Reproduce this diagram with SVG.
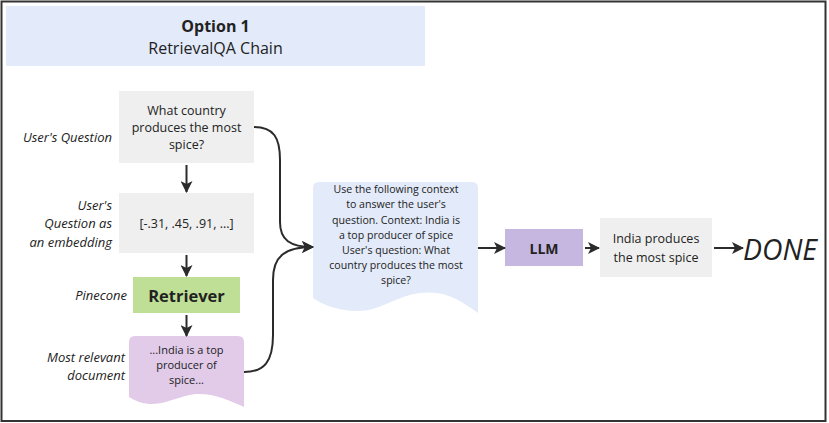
<svg xmlns="http://www.w3.org/2000/svg" width="829" height="423" viewBox="0 0 829 423">
<defs>
<marker id="ah" viewBox="0 0 12 12" refX="11" refY="6" markerWidth="12" markerHeight="12" markerUnits="userSpaceOnUse" orient="auto">
<path d="M0,0 L12,6 L0,12 L3,6 Z" fill="#2b2b2b"/>
</marker>
</defs>
<style>
text{font-family:"Open Sans","Noto Sans","DejaVu Sans",sans-serif;fill:#222}
.c{text-anchor:middle}
.lbl{font-style:italic;font-size:13px;text-anchor:end}
.t12{font-size:12.5px}
.t11{font-size:10.6px}
.doc{font-size:11px}
.b{font-weight:bold}
.gray{fill:#efefef}
.conn{fill:none;stroke:#2b2b2b;stroke-width:2;marker-end:url(#ah)}
</style>
<rect x="0" y="0" width="829" height="423" fill="#ffffff"/>
<rect x="1.5" y="1.5" width="824" height="419.5" fill="none" stroke="#333" stroke-width="2"/>

<g id="title">
<rect x="6" y="6" width="419" height="60" fill="#e3eaf9"/>
<text x="215.5" y="32" class="c b" style="font-size:16px">Option 1</text>
<text x="215.5" y="54" class="c" style="font-size:16px">RetrievalQA Chain</text>
</g>

<g id="question">
<rect x="119" y="91" width="135" height="72" class="gray"/>
<text x="186.5" y="115" class="c t12">What country</text>
<text x="186.5" y="132" class="c t12">produces the most</text>
<text x="186.5" y="149" class="c t12">spice?</text>
</g>
<g id="label-question"><text x="112" y="142" class="lbl">User's Question</text></g>

<g id="embedding">
<rect x="119" y="193" width="135" height="60" class="gray"/>
<text x="186.5" y="228" class="c t12">[-.31, .45, .91, ...]</text>
</g>
<g id="label-embedding">
<text x="112" y="210" class="lbl">User's</text>
<text x="112" y="228" class="lbl">Question as</text>
<text x="112" y="247" class="lbl">an embedding</text>
</g>

<g id="retriever">
<rect x="133" y="277" width="107" height="36" fill="#c0df96"/>
<text x="186.5" y="302" class="c b" style="font-size:16.5px">Retriever</text>
</g>
<g id="label-retriever"><text x="127" y="300" class="lbl">Pinecone</text></g>

<g id="document">
<path d="M129,342 Q129,336 135,336 L238,336 Q244,336 244,342 L244,407 C225,398 205,390 185,396 C165,402 150,410 129,397 Z" fill="#e1cbe9"/>
<text x="186.5" y="354" class="c doc">...India is a top</text>
<text x="186.5" y="369" class="c doc">producer of</text>
<text x="186.5" y="384" class="c doc">spice...</text>
</g>
<g id="label-document">
<text x="125" y="362" class="lbl">Most relevant</text>
<text x="125" y="380" class="lbl">document</text>
</g>

<g id="prompt">
<path d="M313,188 Q313,182 319,182 L472,182 Q478,182 478,188 L478,313 C460,300 445,290 420,293 C395,296 380,312 355,311 C335,310 322,304 313,298 Z" fill="#e3eaf9"/>
<text x="396" y="193" class="c t11">Use the following context</text>
<text x="396" y="208" class="c t11">to answer the user's</text>
<text x="396" y="224" class="c t11">question. Context: India is</text>
<text x="396" y="239" class="c t11">a top producer of spice</text>
<text x="396" y="254" class="c t11">User's question: What</text>
<text x="396" y="269" class="c t11">country produces the most</text>
<text x="396" y="284" class="c t11">spice?</text>
</g>

<g id="llm">
<rect x="505" y="229" width="78" height="37" fill="#c6b7e1"/>
<text x="544" y="254" class="c b" style="font-size:14px">LLM</text>
</g>

<g id="answer">
<rect x="600" y="218" width="112" height="59" class="gray"/>
<text x="656" y="243" class="c t12">India produces</text>
<text x="656" y="262" class="c t12">the most spice</text>
</g>

<g id="done">
<text x="743" y="260" style="font-size:29px;font-style:italic" textLength="74" lengthAdjust="spacingAndGlyphs">DONE</text>
</g>

<g id="connectors">
<line x1="186.5" y1="165" x2="186.5" y2="192" class="conn"/>
<line x1="186.5" y1="255" x2="186.5" y2="276" class="conn"/>
<line x1="186.5" y1="315" x2="186.5" y2="336" class="conn"/>
<path d="M254,127 C274,127 280,138 280,160 L280,222 C280,240 290,247 313,247" class="conn"/>
<path d="M244,372 C264,372 273,362 273,335 L273,280 C273,256 285,247 313,247" class="conn"/>
<line x1="478" y1="248" x2="505" y2="248" class="conn"/>
<line x1="585" y1="248" x2="599" y2="248" class="conn"/>
<line x1="714" y1="248" x2="743" y2="248" class="conn"/>
</g>
</svg>
